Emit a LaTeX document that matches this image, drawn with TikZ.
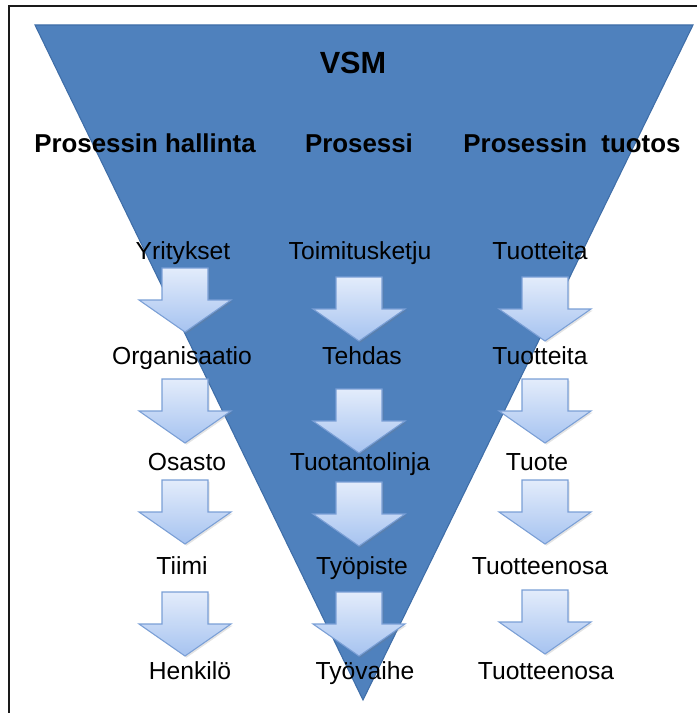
\documentclass[tikz,border=0pt]{standalone}
\usepackage{fontspec}
\setmainfont{Liberation Sans}
\usetikzlibrary{shadows}

\definecolor{vsmblue}{HTML}{4F81BD}
\definecolor{vsmedge}{HTML}{3F6EA8}
\definecolor{arrtop}{HTML}{E3ECFB}
\definecolor{arrbot}{HTML}{A6C3F0}
\definecolor{arredge}{HTML}{7A9FD6}
\definecolor{frameline}{HTML}{1A1A1A}

\tikzset{
  lvl/.style={font=\fontsize{18.5}{20}\selectfont, text=black, inner sep=0pt, anchor=base},
  colhead/.style={font=\bfseries\fontsize{19.4}{21}\selectfont, text=black, inner sep=0pt, anchor=base},
  pics/downarrow/.style={code={
    \path[draw=arredge, line width=0.8pt, line join=miter,
          top color=arrtop, bottom color=arrbot,
          drop shadow={opacity=0.22, shadow xshift=1.2pt, shadow yshift=-1.2pt}]
      (-23,0) -- (23,0) -- (23,32) -- (46,32) -- (0,64)
      -- (-46,32) -- (-23,32) -- cycle;
  }}
}

\begin{document}
\begin{tikzpicture}[x=0.75pt,y=-0.75pt]
\useasboundingbox (0,0) rectangle (697,713);

% outer frame (top and left edges)
\draw[frameline, line width=1.5pt] (9,713) |- (697,6);

% inverted triangle
\filldraw[fill=vsmblue, draw=vsmedge, line width=0.8pt, line join=miter]
  (35,25) -- (693,25) -- (363,700) -- cycle;

% title and column headings
\node[colhead, font=\bfseries\fontsize{23}{25}\selectfont] (vsm) at (353,74) {VSM};
\node[colhead] (hLeft) at (145,152) {Prosessin hallinta};
\node[colhead] (hMid)  at (359,152) {Prosessi};
\node[colhead] (hRight) at (572,152) {Prosessin~ tuotos};

% left column
\node[lvl] (l1) at (183,259) {Yritykset};
\node[lvl] (l2) at (182,364) {Organisaatio};
\node[lvl] (l3) at (187,470) {Osasto};
\node[lvl] (l4) at (182,574) {Tiimi};
\node[lvl] (l5) at (190,679) {Henkilö};

% middle column
\node[lvl] (m1) at (360,259) {Toimitusketju};
\node[lvl] (m2) at (362,364) {Tehdas};
\node[lvl] (m3) at (360,470) {Tuotantolinja};
\node[lvl] (m4) at (362,574) {Työpiste};
\node[lvl] (m5) at (365,679) {Työvaihe};

% right column
\node[lvl] (r1) at (540,259) {Tuotteita};
\node[lvl] (r2) at (540,364) {Tuotteita};
\node[lvl] (r3) at (537,470) {Tuote};
\node[lvl] (r4) at (540,574) {Tuotteenosa};
\node[lvl] (r5) at (546,679) {Tuotteenosa};

% block arrows between levels
\foreach \ya in {268,379,480,592} \pic at (185,\ya) {downarrow};
\foreach \ya in {277,389,482,592} \pic at (359,\ya) {downarrow};
\foreach \ya in {277,379,480,590} \pic at (545,\ya) {downarrow};

\end{tikzpicture}
\end{document}
